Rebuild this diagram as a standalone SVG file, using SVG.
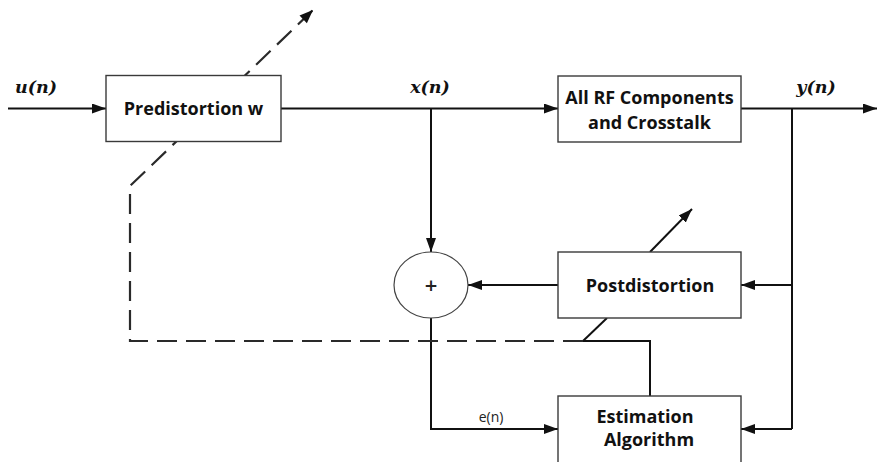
<svg xmlns="http://www.w3.org/2000/svg" width="877" height="462" viewBox="0 0 877 462">
<style>
.box{fill:#fff;stroke:#3a3a3a;stroke-width:1.4}
.lbl{font-family:"Open Sans","Liberation Sans",sans-serif;font-weight:700;font-size:18px;fill:#111;text-anchor:middle}
.math{font-family:"DejaVu Serif","Liberation Serif",serif;font-weight:700;font-style:italic;font-size:17.5px;fill:#111;text-anchor:middle}
.small{font-family:"Open Sans","Liberation Sans",sans-serif;font-size:14px;fill:#222;text-anchor:middle}
.ln{fill:none;stroke:#111;stroke-width:2}
.dash{fill:none;stroke:#2a2a2a;stroke-width:2.2;stroke-dasharray:20 9}
.ah{fill:#111;stroke:none}
</style>
<defs>
<marker id="arr" markerUnits="userSpaceOnUse" markerWidth="14" markerHeight="10" refX="14" refY="5" orient="auto">
<path class="ah" d="M0,0 L14,5 L0,10 Z"/>
</marker>
</defs>
<rect width="877" height="462" fill="#fff"/>
<g id="connectors">
<path class="ln" d="M8,108.5 H106" marker-end="url(#arr)"/>
<path class="ln" d="M281,108.5 H558" marker-end="url(#arr)"/>
<path class="ln" d="M741,108.5 H877" marker-end="url(#arr)"/>
<path class="ln" d="M431,108.5 V252" marker-end="url(#arr)"/>
<path class="ln" d="M792,108.5 V429"/>
<path class="ln" d="M792,285 H741" marker-end="url(#arr)"/>
<path class="ln" d="M792,429 H741" marker-end="url(#arr)"/>
<path class="ln" d="M558,285 H468" marker-end="url(#arr)"/>
<path class="ln" d="M431,318 V429 H558" marker-end="url(#arr)"/>
<path class="ln" d="M650,396 V341 H583"/>
<path class="ln" d="M583,341 L607,318"/>
<path class="ln" d="M650,252 L692,209" marker-end="url(#arr)"/>
<path class="dash" d="M583,341 H130 V186 L313,10"/>
<path class="ah" d="M313,10 L299.5,15.5 L306.9,23.2 Z"/>
</g>
<g id="predistortion">
<rect class="box" x="106" y="75.5" width="175" height="66"/>
<text class="lbl" x="193.5" y="115">Predistortion w</text>
</g>
<g id="rf">
<rect class="box" x="558" y="76" width="183" height="66"/>
<text class="lbl" x="649.5" y="104">All RF Components</text>
<text class="lbl" x="649.5" y="129">and Crosstalk</text>
</g>
<g id="sum">
<ellipse cx="431" cy="285" rx="37" ry="33" fill="#fff" stroke="#444" stroke-width="1.2"/>
<text class="small" x="431" y="292.5" style="font-size:22px;font-weight:600">+</text>
</g>
<g id="postdistortion">
<rect class="box" x="558" y="252" width="183" height="66"/>
<text class="lbl" x="650" y="292">Postdistortion</text>
</g>
<g id="estimation">
<rect class="box" x="558" y="396" width="183" height="80"/>
<text class="lbl" x="645" y="423">Estimation</text>
<text class="lbl" x="649" y="446">Algorithm</text>
</g>
<g id="labels">
<text class="math" x="36" y="93">u(n)</text>
<text class="math" x="430" y="93">x(n)</text>
<text class="math" x="816" y="93">y(n)</text>
<text class="small" x="491" y="422">e(n)</text>
</g>
</svg>
